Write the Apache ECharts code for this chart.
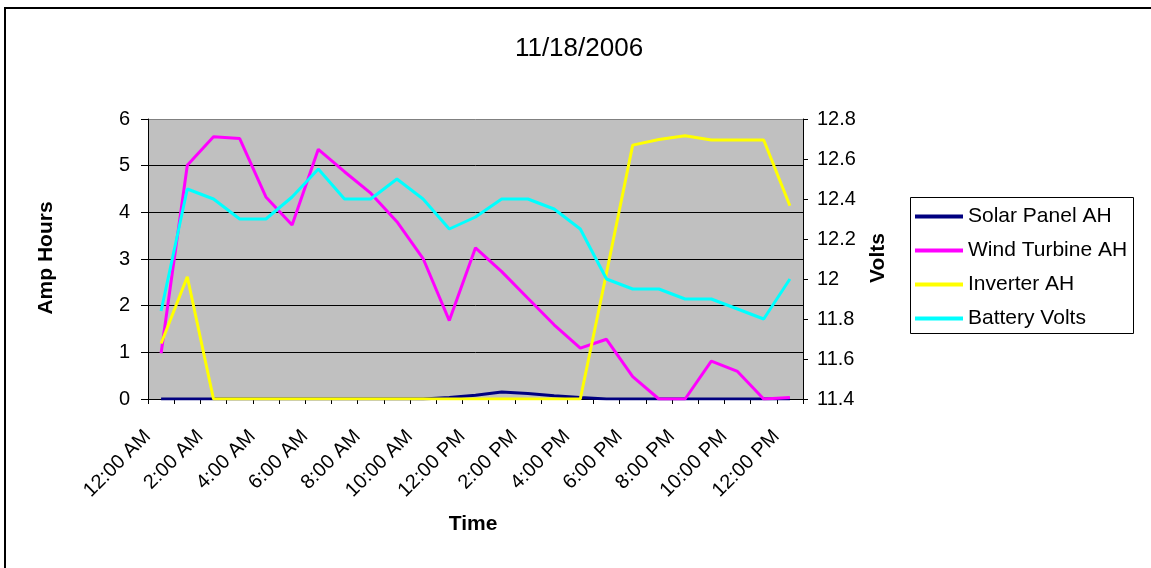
<!DOCTYPE html>
<html>
<head>
<meta charset="utf-8">
<title>11/18/2006</title>
<script src="https://cdn.jsdelivr.net/npm/echarts@6/dist/echarts.min.js"></script>
<style>
  html, body { margin: 0; padding: 0; background: #ffffff; }
  #chart { width: 1151px; height: 568px; }
</style>
</head>
<body>
<div id="chart"></div>
<script>
// Hourly readings for the day
const hours = [
  '12:00 AM', '1:00 AM', '2:00 AM', '3:00 AM', '4:00 AM', '5:00 AM',
  '6:00 AM', '7:00 AM', '8:00 AM', '9:00 AM', '10:00 AM', '11:00 AM',
  '12:00 PM', '1:00 PM', '2:00 PM', '3:00 PM', '4:00 PM', '5:00 PM',
  '6:00 PM', '7:00 PM', '8:00 PM', '9:00 PM', '10:00 PM', '11:00 PM',
  '12:00 PM'
];

const solarPanelAH = [
  0, 0, 0, 0, 0, 0, 0, 0, 0, 0, 0, 0.03,
  0.08, 0.15, 0.12, 0.07, 0.03, 0, 0, 0, 0, 0, 0, 0, 0
];

const windTurbineAH = [
  0.98, 5.01, 5.62, 5.58, 4.33, 3.73, 5.35, 4.87, 4.41, 3.80, 3.01, 1.68,
  3.24, 2.73, 2.16, 1.59, 1.09, 1.28, 0.48, 0, 0, 0.81, 0.59, 0, 0.03
];

const inverterAH = [
  1.19, 2.62, 0, 0, 0, 0, 0, 0, 0, 0, 0, 0,
  0, 0, 0, 0, 0, 2.7, 5.44, 5.56, 5.64, 5.55, 5.55, 5.55, 4.14
];

const batteryVolts = [
  11.84, 12.45, 12.40, 12.30, 12.30, 12.41, 12.55, 12.40, 12.40, 12.50, 12.40, 12.25,
  12.31, 12.40, 12.40, 12.35, 12.25, 12.00, 11.95, 11.95, 11.90, 11.90, 11.85, 11.80, 12.00
];

const seriesNames = ['Solar Panel AH', 'Wind Turbine AH', 'Inverter AH', 'Battery Volts'];
const seriesColors = ['#000080', '#FF00FF', '#FFFF00', '#00FFFF'];

const FONT = '"Liberation Sans", Arial, sans-serif';

const chart = echarts.init(document.getElementById('chart'), null, { renderer: 'canvas' });

function lineSeries(idx, data, yAxisIndex) {
  return {
    name: seriesNames[idx],
    type: 'line',
    yAxisIndex: yAxisIndex,
    data: data,
    symbol: 'none',
    smooth: false,
    lineStyle: { color: seriesColors[idx], width: 3 },
    itemStyle: { color: seriesColors[idx] },
    z: 2 + idx,
    animation: false
  };
}

chart.setOption({
  animation: false,
  backgroundColor: '#ffffff',
  textStyle: { fontFamily: FONT },
  grid: {
    left: 148, right: 348, top: 119, bottom: 169,
    show: true, backgroundColor: '#C0C0C0', borderWidth: 0
  },
  legend: {
    orient: 'vertical',
    left: 915, top: 206,
    padding: 0,
    itemGap: 13,
    itemWidth: 48, itemHeight: 4,
    icon: 'rect',
    data: seriesNames,
    textStyle: { fontFamily: FONT, fontSize: 21, color: '#000', lineHeight: 20 }
  },
  xAxis: {
    type: 'category',
    data: hours,
    boundaryGap: true,
    axisLine: { lineStyle: { color: '#000', width: 1 } },
    axisTick: { show: true, interval: 0, length: 5, lineStyle: { color: '#000' } },
    axisLabel: {
      interval: 1, rotate: 45, margin: 21, padding: [0, 19, 0, 0],
      color: '#000', fontSize: 20, fontFamily: FONT
    },
    splitLine: { show: false }
  },
  yAxis: [
    {
      type: 'value', min: 0, max: 6, interval: 1, position: 'left',
      axisLine: { show: true, lineStyle: { color: '#000', width: 1 } },
      axisTick: { show: true, length: 7, lineStyle: { color: '#000' } },
      axisLabel: { color: '#000', fontSize: 20, fontFamily: FONT, margin: 18 },
      splitLine: {
        show: true,
        lineStyle: {
          color: ['#000', '#000', '#000', '#000', '#000', '#000', '#808080'],
          width: 1
        }
      }
    },
    {
      type: 'value', min: 11.4, max: 12.8, interval: 0.2, position: 'right',
      axisLine: { show: true, lineStyle: { color: '#000', width: 1 } },
      axisTick: { show: true, length: 5, lineStyle: { color: '#000' } },
      axisLabel: {
        color: '#000', fontSize: 20, fontFamily: FONT, margin: 14,
        formatter: v => String(parseFloat(v.toFixed(1)))
      },
      splitLine: { show: false }
    }
  ],
  series: [
    lineSeries(0, solarPanelAH, 0),
    lineSeries(1, windTurbineAH, 0),
    lineSeries(2, inverterAH, 0),
    lineSeries(3, batteryVolts, 1)
  ],
  graphic: [
    // outer chart frame
    {
      type: 'rect', silent: true, z: 100,
      shape: { x: 5, y: 8, width: 1200, height: 700 },
      style: { fill: null, stroke: '#000', lineWidth: 2 }
    },
    // legend frame
    {
      type: 'rect', silent: true, z: 100,
      shape: { x: 910.5, y: 197.5, width: 223, height: 136 },
      style: { fill: null, stroke: '#000', lineWidth: 1 }
    },
    {
      type: 'text', silent: true, z: 100,
      style: {
        x: 579, y: 49, text: '11/18/2006', textAlign: 'center', textVerticalAlign: 'middle',
        font: '26px ' + FONT, fill: '#000'
      }
    },
    {
      type: 'text', silent: true, z: 100,
      x: 46, y: 258, rotation: Math.PI / 2,
      style: {
        x: 0, y: 0, text: 'Amp Hours', textAlign: 'center', textVerticalAlign: 'middle',
        font: 'bold 21px ' + FONT, fill: '#000'
      }
    },
    {
      type: 'text', silent: true, z: 100,
      x: 878, y: 258, rotation: Math.PI / 2,
      style: {
        x: 0, y: 0, text: 'Volts', textAlign: 'center', textVerticalAlign: 'middle',
        font: 'bold 21px ' + FONT, fill: '#000'
      }
    },
    {
      type: 'text', silent: true, z: 100,
      style: {
        x: 473, y: 524, text: 'Time', textAlign: 'center', textVerticalAlign: 'middle',
        font: 'bold 21px ' + FONT, fill: '#000'
      }
    }
  ]
});
</script>
</body>
</html>
